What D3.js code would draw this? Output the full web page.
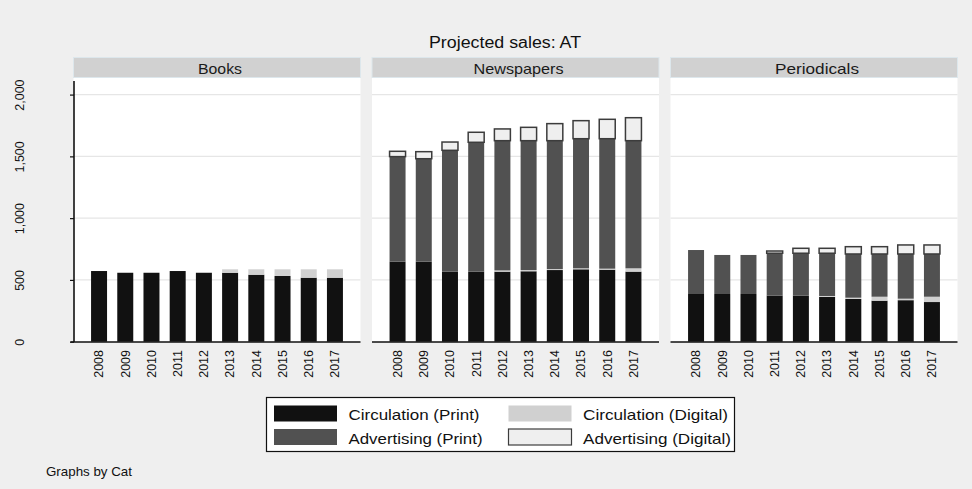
<!DOCTYPE html>
<html>
<head>
<meta charset="utf-8">
<script src="https://cdn.jsdelivr.net/npm/d3@7"></script>
<style>
  html, body { margin: 0; padding: 0; background: #efefef; }
  svg { display: block; font-family: "Liberation Sans", Arial, sans-serif; }
</style>
</head>
<body>
<svg id="chart" width="972" height="489"></svg>
<script>
// Projected sales by category, stacked by revenue stream
const years = ["2008", "2009", "2010", "2011", "2012", "2013", "2014", "2015", "2016", "2017"];
const categories = ["Books", "Newspapers", "Periodicals"];
const yTicks = [0, 500, 1000, 1500, 2000];

const circPrint = {
  Books:       [572, 558, 558, 572, 558, 558, 542, 532, 518, 518],
  Newspapers:  [648, 648, 567, 567, 567, 570, 580, 586, 583, 567],
  Periodicals: [386, 386, 386, 373, 373, 362, 346, 332, 336, 321]
};
const circDigital = {
  Books:       [0, 0, 0, 0, 0, 28, 44, 54, 68, 68],
  Newspapers:  [0, 0, 0, 0, 10, 10, 8, 8, 8, 27],
  Periodicals: [0, 0, 0, 0, 0, 8, 10, 32, 12, 43]
};
const advPrint = {
  Books:       [0, 0, 0, 0, 0, 0, 0, 0, 0, 0],
  Newspapers:  [850, 833, 982, 1047, 1050, 1047, 1039, 1049, 1052, 1033],
  Periodicals: [356, 316, 316, 343, 343, 346, 354, 346, 362, 346]
};
const advDigital = {
  Books:       [0, 0, 0, 0, 0, 0, 0, 0, 0, 0],
  Newspapers:  [43, 57, 67, 81, 95, 108, 138, 146, 157, 186],
  Periodicals: [0, 0, 0, 18, 40, 40, 59, 59, 73, 73]
};

const seriesKeys = ["circPrint", "circDigital", "advPrint", "advDigital"];
const seriesLabels = {
  circPrint: "Circulation (Print)",
  circDigital: "Circulation (Digital)",
  advPrint: "Advertising (Print)",
  advDigital: "Advertising (Digital)"
};
const fills = { circPrint: "#111111", circDigital: "#d0d0d0", advPrint: "#515151", advDigital: "#efefef" };
const strokes = { circPrint: "none", circDigital: "none", advPrint: "none", advDigital: "#3c3c3c" };
const sources = { circPrint, circDigital, advPrint, advDigital };

const svg = d3.select("#chart");

// layout
const panelW = 287;
const panelLeft = [73.5, 372, 670.5];
const plotTop = 78, plotBottom = 342;
const stripTop = 57.5, stripH = 20;

const y = d3.scaleLinear().domain([0, 2110]).range([341.7, 81]);

// title
svg.append("text")
  .attr("x", 505).attr("y", 47.5)
  .attr("text-anchor", "middle")
  .attr("font-size", 16)
  .attr("textLength", 152).attr("lengthAdjust", "spacingAndGlyphs")
  .attr("fill", "#111")
  .text("Projected sales: AT");

const stripTextLen = { Books: 44, Newspapers: 90, Periodicals: 84 };

categories.forEach((cat, ci) => {
  const left = panelLeft[ci];
  const g = svg.append("g");

  // strip
  g.append("rect")
    .attr("x", left).attr("y", stripTop)
    .attr("width", panelW).attr("height", stripH)
    .attr("fill", "#d1d1d1").attr("stroke", "#dde7ec").attr("stroke-width", 1);
  g.append("text")
    .attr("x", left + panelW / 2 + 3).attr("y", stripTop + 16)
    .attr("text-anchor", "middle")
    .attr("font-size", 14.5)
    .attr("textLength", stripTextLen[cat]).attr("lengthAdjust", "spacingAndGlyphs")
    .attr("fill", "#1a1a1a")
    .text(cat);

  // plot area
  g.append("rect")
    .attr("x", left).attr("y", plotTop)
    .attr("width", panelW).attr("height", plotBottom - plotTop)
    .attr("fill", "#ffffff");

  // grid
  g.selectAll("line.grid")
    .data(yTicks.filter(d => d > 0))
    .join("line")
    .attr("class", "grid")
    .attr("x1", left).attr("x2", left + panelW)
    .attr("y1", d => y(d)).attr("y2", d => y(d))
    .attr("stroke", "#e6e6e6").attr("stroke-width", 1.2);

  const x = d3.scaleBand().domain(years)
    .range([left, left + panelW])
    .paddingInner(0.39).paddingOuter(0.67);

  const rows = years.map((yr, i) => {
    const r = { year: yr };
    seriesKeys.forEach(k => { r[k] = sources[k][cat][i]; });
    return r;
  });
  const stacked = d3.stack().keys(seriesKeys)(rows);

  stacked.forEach(layer => {
    const k = layer.key;
    g.append("g").selectAll("rect")
      .data(layer.filter(d => d[1] - d[0] > 0))
      .join("rect")
      .attr("x", d => x(d.data.year))
      .attr("width", x.bandwidth())
      .attr("y", d => y(d[1]))
      .attr("height", d => y(d[0]) - y(d[1]))
      .attr("fill", fills[k])
      .attr("stroke", strokes[k])
      .attr("stroke-width", 1.5);
  });

  // x axis
  const xAxis = g.append("g")
    .attr("transform", `translate(0,${plotBottom})`)
    .call(d3.axisBottom(x).tickSize(0));
  xAxis.select(".domain").remove();
  xAxis.selectAll("text")
    .attr("font-size", 12.5)
    .attr("font-family", "Liberation Sans, Arial, sans-serif")
    .attr("fill", "#111")
    .attr("text-anchor", "end")
    .attr("x", 0).attr("y", 0).attr("dy", "0.35em")
    .attr("transform", "translate(0,8) rotate(-90)");
  g.append("line")
    .attr("x1", ci === 0 ? left - 3 : left).attr("x2", left + panelW)
    .attr("y1", plotBottom).attr("y2", plotBottom)
    .attr("stroke", "#111").attr("stroke-width", 1.6);

  // y axis on first panel
  if (ci === 0) {
    const yAxis = g.append("g")
      .attr("transform", `translate(${left + 0.5},0)`)
      .call(d3.axisLeft(y).tickValues(yTicks).tickFormat(d3.format(",")).tickSize(4));
    yAxis.select(".domain")
      .attr("d", `M0,${y.range()[1]}V${plotBottom}`)
      .attr("stroke", "#111").attr("stroke-width", 1.6);
    yAxis.selectAll(".tick line").attr("stroke", "#111").attr("stroke-width", 1.2);
    yAxis.selectAll(".tick text")
      .attr("font-size", 12.5)
      .attr("font-family", "Liberation Sans, Arial, sans-serif")
      .attr("fill", "#111")
      .attr("text-anchor", "middle")
      .attr("x", 0).attr("y", 0).attr("dy", 0)
      .attr("transform", "translate(-50,0) rotate(-90)");
  }
});

// legend
const lg = svg.append("g");
lg.append("rect")
  .attr("x", 266.5).attr("y", 397.5).attr("width", 468).attr("height", 54)
  .attr("fill", "#ffffff").attr("stroke", "#111").attr("stroke-width", 1.2);
const legendItems = [
  { key: "circPrint", col: 0, row: 0 },
  { key: "circDigital", col: 1, row: 0 },
  { key: "advPrint", col: 0, row: 1 },
  { key: "advDigital", col: 1, row: 1 }
];
const legendTextLen = { circPrint: 131, circDigital: 145, advPrint: 134, advDigital: 148 };
const colX = [274, 508.5], textX = [348.5, 583];
const rowY = [405.5, 429], rowBase = [420, 444];
legendItems.forEach(it => {
  lg.append("rect")
    .attr("x", colX[it.col]).attr("y", rowY[it.row])
    .attr("width", 63).attr("height", 16)
    .attr("fill", fills[it.key])
    .attr("stroke", strokes[it.key]).attr("stroke-width", 1.2);
  lg.append("text")
    .attr("x", textX[it.col]).attr("y", rowBase[it.row])
    .attr("font-size", 15)
    .attr("textLength", legendTextLen[it.key]).attr("lengthAdjust", "spacingAndGlyphs")
    .attr("fill", "#111")
    .text(seriesLabels[it.key]);
});

// note
svg.append("text")
  .attr("x", 46).attr("y", 476)
  .attr("font-size", 13)
  .attr("textLength", 86).attr("lengthAdjust", "spacingAndGlyphs")
  .attr("fill", "#111")
  .text("Graphs by Cat");
</script>
</body>
</html>
